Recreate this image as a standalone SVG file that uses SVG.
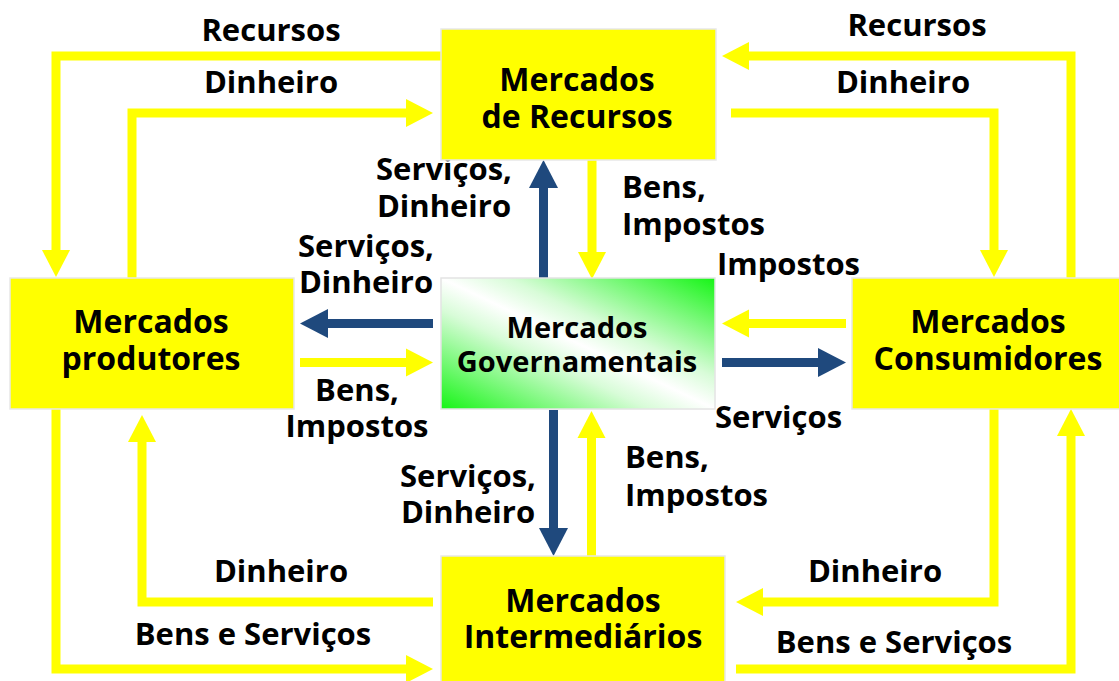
<svg xmlns="http://www.w3.org/2000/svg" width="1119" height="681" viewBox="0 0 1119 681">
<style>
.box{fill:#ffff00;stroke:#e8e8e8;stroke-width:1.5}
.gov{fill:url(#g);stroke:#e4e4e4;stroke-width:1.5}
.y{fill:none;stroke:#ffff00;stroke-width:9;stroke-linejoin:miter}
.b{fill:none;stroke:#1f497d;stroke-width:9}
text{font-family:"Open Sans","Noto Sans","Liberation Sans",sans-serif;font-weight:bold;fill:#000}
.l{font-size:31px}
.t{font-size:32px;text-anchor:middle}
.tg{font-size:29px;text-anchor:middle}
.m{text-anchor:middle}
</style>
<defs>
<linearGradient id="g" x1="1" y1="0" x2="0" y2="1">
<stop offset="0" stop-color="#16f516"/>
<stop offset="0.38" stop-color="#d8fcd8"/>
<stop offset="0.5" stop-color="#ffffff"/>
<stop offset="0.62" stop-color="#d8fcd8"/>
<stop offset="1" stop-color="#16f516"/>
</linearGradient>
<marker id="ay" markerUnits="userSpaceOnUse" markerWidth="28" markerHeight="28" refX="0" refY="14" orient="auto" overflow="visible">
<path d="M0,0 L27,14 L0,28 Z" fill="#ffff00"/>
</marker>
<marker id="ab" markerUnits="userSpaceOnUse" markerWidth="29" markerHeight="29" refX="0" refY="14.5" orient="auto" overflow="visible">
<path d="M0,0 L28,14.5 L0,29 Z" fill="#1f497d"/>
</marker>
</defs>
<g id="connectors">
<path class="y" d="M441,56 H56 V250" marker-end="url(#ay)"/>
<path class="y" d="M132,278 V113 H406" marker-end="url(#ay)"/>
<path class="y" d="M1071,278 V56 H749" marker-end="url(#ay)"/>
<path class="y" d="M731,113 H994 V250" marker-end="url(#ay)"/>
<path class="y" d="M592,160 V252" marker-end="url(#ay)"/>
<path class="b" d="M543.5,280 V188" marker-end="url(#ab)"/>
<path class="b" d="M433,323.5 H328" marker-end="url(#ab)"/>
<path class="y" d="M300,362.5 H406" marker-end="url(#ay)"/>
<path class="y" d="M846,323.5 H749" marker-end="url(#ay)"/>
<path class="b" d="M722,362.5 H818" marker-end="url(#ab)"/>
<path class="b" d="M553.5,410 V528" marker-end="url(#ab)"/>
<path class="y" d="M591.5,556 V438" marker-end="url(#ay)"/>
<path class="y" d="M56,409 V669 H406" marker-end="url(#ay)"/>
<path class="y" d="M433,602 H142 V442" marker-end="url(#ay)"/>
<path class="y" d="M994,409 V602 H763" marker-end="url(#ay)"/>
<path class="y" d="M736,669 H1071 V436" marker-end="url(#ay)"/>
</g>
<g id="labels">
<text class="l m" x="271" y="41">Recursos</text>
<text class="l m" x="271" y="93">Dinheiro</text>
<text class="l m" x="917" y="36">Recursos</text>
<text class="l m" x="903" y="93">Dinheiro</text>
<text class="l m" x="444" y="180">Serviços,<tspan x="444" dy="37">Dinheiro</tspan></text>
<text class="l m" x="366" y="257">Serviços,<tspan x="366" dy="36">Dinheiro</tspan></text>
<text class="l" x="622" y="198">Bens,<tspan x="622" dy="37">Impostos</tspan></text>
<text class="l" x="717" y="275">Impostos</text>
<text class="l m" x="357" y="401">Bens,<tspan x="357" dy="36">Impostos</tspan></text>
<text class="l" x="715" y="428">Serviços</text>
<text class="l m" x="468" y="487">Serviços,<tspan x="468" dy="36">Dinheiro</tspan></text>
<text class="l" x="625" y="468">Bens,<tspan x="625" dy="38">Impostos</tspan></text>
<text class="l m" x="281" y="582">Dinheiro</text>
<text class="l m" x="253" y="645">Bens e Serviços</text>
<text class="l m" x="875" y="582">Dinheiro</text>
<text class="l m" x="894" y="653">Bens e Serviços</text>
</g>
<g id="mercados-recursos">
<rect class="box" x="441" y="29" width="275" height="131"/>
<text class="t" x="577" y="91">Mercados<tspan x="577" dy="37">de Recursos</tspan></text>
</g>
<g id="mercados-produtores">
<rect class="box" x="10" y="278" width="284" height="131"/>
<text class="t" x="151" y="333">Mercados<tspan x="151" dy="37">produtores</tspan></text>
</g>
<g id="mercados-governamentais">
<rect class="gov" x="441" y="278" width="274" height="131"/>
<text class="tg" x="577" y="338">Mercados<tspan x="577" dy="34">Governamentais</tspan></text>
</g>
<g id="mercados-consumidores">
<rect class="box" x="852" y="278" width="268" height="131"/>
<text class="t" x="988" y="333">Mercados<tspan x="988" dy="37">Consumidores</tspan></text>
</g>
<g id="mercados-intermediarios">
<rect class="box" x="441" y="556" width="284" height="126"/>
<text class="t" x="583" y="612">Mercados<tspan x="583" dy="36">Intermediários</tspan></text>
</g>
</svg>
